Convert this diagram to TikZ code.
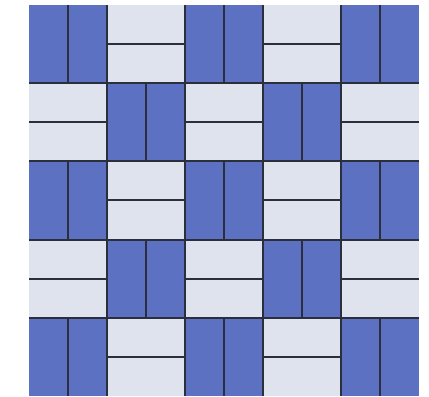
\documentclass[tikz,border=0pt]{standalone}
\definecolor{tileblue}{HTML}{5D71C3}
\definecolor{tilelight}{HTML}{DFE3EE}
\definecolor{tileline}{HTML}{2B2F3D}
\begin{document}
\begin{tikzpicture}[x=0.3mm,y=-0.3mm,
  seam/.style={draw=tileline,line width=0.6mm,line cap=rect}]
\useasboundingbox (0,0) rectangle (429,397);
\def\xo{29}\def\yo{5}\def\cw{78}\def\ch{78.2}
% fills
\foreach \r in {0,...,4}{
  \foreach \c in {0,...,4}{
    \pgfmathparse{mod(\r+\c,2)==0 ? 1 : 0}
    \ifnum\pgfmathresult=1
      \fill[tileblue] ({\xo+\c*\cw},{\yo+\r*\ch}) rectangle ++(\cw,\ch);
    \else
      \fill[tilelight] ({\xo+\c*\cw},{\yo+\r*\ch}) rectangle ++(\cw,\ch);
    \fi
  }
}
% interior cell boundaries
\foreach \k in {1,...,4}{
  \draw[seam,line cap=butt] ({\xo+\k*\cw},\yo) -- ({\xo+\k*\cw},{\yo+5*\ch});
  \draw[seam,line cap=butt] (\xo,{\yo+\k*\ch}) -- ({\xo+5*\cw},{\yo+\k*\ch});
}
% splits
\foreach \r in {0,...,4}{
  \foreach \c in {0,...,4}{
    \pgfmathparse{mod(\r+\c,2)==0 ? 1 : 0}
    \ifnum\pgfmathresult=1
      \draw[seam,line cap=butt] ({\xo+(\c+0.5)*\cw},{\yo+\r*\ch}) -- ++(0,\ch);
    \else
      \draw[seam,line cap=butt] ({\xo+\c*\cw},{\yo+(\r+0.5)*\ch}) -- ++(\cw,0);
    \fi
  }
}
\end{tikzpicture}
\end{document}
